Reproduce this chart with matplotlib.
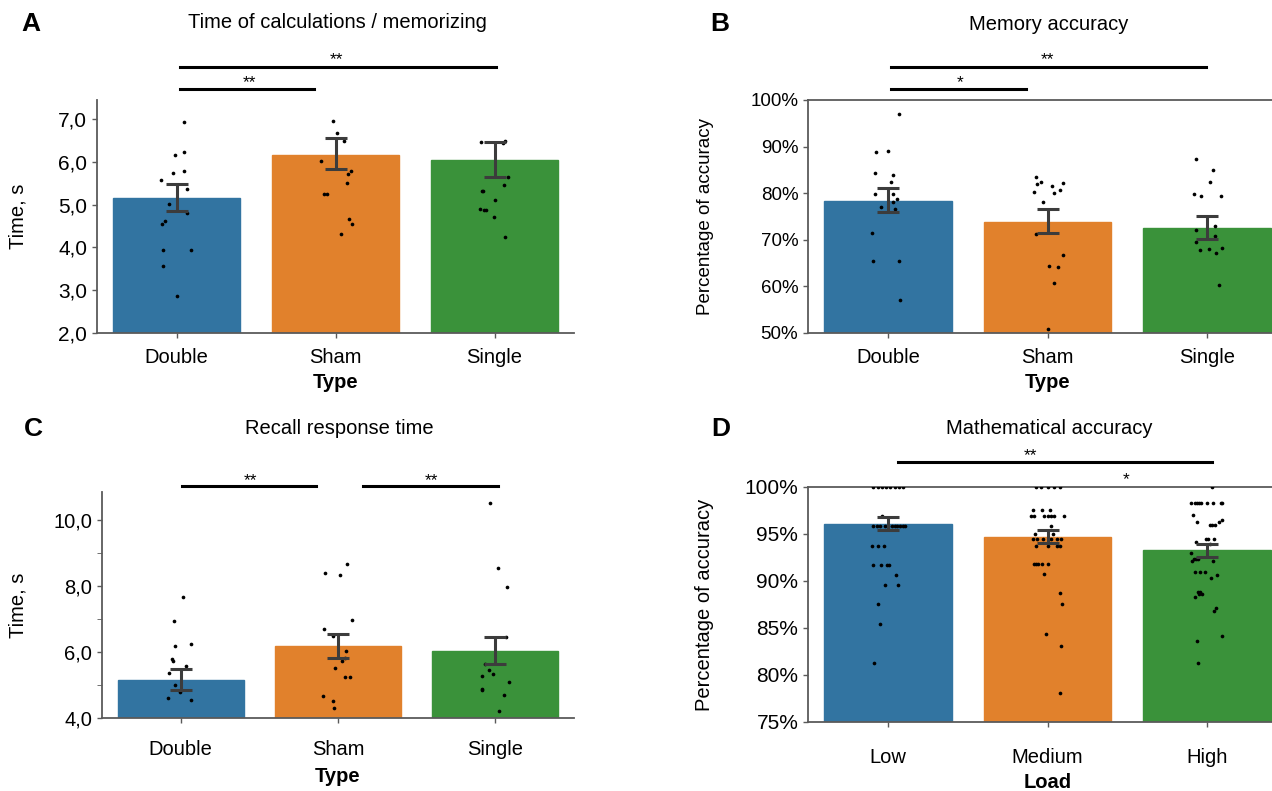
import numpy as np
import matplotlib
matplotlib.use('Agg')
import matplotlib.pyplot as plt
from matplotlib.lines import Line2D

plt.rcParams['font.family'] = ['Liberation Sans', 'DejaVu Sans']

W, H = 1272, 791
COLORS = ['#3274a1', '#e1812c', '#3a923a']

types = ['Double', 'Sham', 'Single']
loads = ['Low', 'Medium', 'High']

# --- A: time of calculations / memorizing (s)
a_mean = [5.16, 6.17, 6.04]
a_lo = [4.86, 5.83, 5.64]
a_hi = [5.49, 6.55, 6.47]
a_double = [6.94, 6.17, 6.24, 5.75, 5.79, 5.59, 5.36, 5.01, 4.80, 4.56, 4.61, 3.95, 3.94, 3.56, 2.86]
a_double_jit = [0.05, -0.01, 0.048, -0.023, 0.046, -0.1, 0.069, -0.05, 0.065, -0.092, -0.075, -0.088, 0.09, -0.083, 0.0]
a_sham = [6.96, 6.68, 6.48, 6.03, 5.80, 5.72, 5.52, 5.24, 5.25, 4.66, 4.54, 4.31]
a_sham_jit = [-0.013, 0.008, 0.052, -0.092, 0.098, 0.077, 0.073, -0.071, -0.052, 0.083, 0.104, 0.033]
a_single = [6.47, 6.45, 6.48, 5.64, 5.46, 5.31, 5.33, 5.10, 4.90, 4.88, 4.87, 4.72, 4.24]
a_single_jit = [-0.085, 0.052, 0.067, 0.083, 0.058, -0.079, -0.073, 0.002, -0.094, -0.063, -0.054, -0.004, 0.065]
a_yticks = [2, 3, 4, 5, 6, 7]

# --- B: memory accuracy (%)
b_mean = [78.35, 73.85, 72.5]
b_lo = [76.0, 71.36, 70.14]
b_hi = [81.07, 76.57, 75.0]
b_double = [97.0, 88.8, 89.1, 84.3, 83.85, 82.5, 79.8, 79.85, 78.7, 78.2, 77.1, 76.6, 71.5, 65.5, 65.55, 57.1]
b_double_jit = [0.071, -0.071, 0.002, -0.079, 0.031, 0.021, -0.079, 0.035, 0.058, 0.031, -0.042, 0.042, -0.098, -0.09, 0.071, 0.079]
b_sham = [83.56, 81.9, 82.3, 81.6, 82.2, 80.2, 80.06, 80.6, 78.07, 71.2, 66.8, 64.4, 64.2, 60.7, 50.8]
b_sham_jit = [-0.073, -0.067, -0.04, 0.029, 0.1, -0.085, 0.038, 0.081, -0.029, -0.075, 0.098, 0.008, 0.067, 0.04, 0.006]
b_single = [87.4, 84.9, 82.3, 79.9, 79.35, 79.35, 72.1, 73.0, 70.9, 69.5, 67.85, 68.1, 68.3, 67.1, 60.35]
b_single_jit = [-0.073, 0.038, 0.019, -0.085, -0.04, 0.088, -0.069, 0.046, 0.05, -0.067, -0.044, 0.013, 0.09, 0.056, 0.077]
b_yticks = [50, 60, 70, 80, 90, 100]

# --- C: recall response time (s)
c_mean = [5.16, 6.17, 6.04]
c_lo = [4.85, 5.81, 5.64]
c_hi = [5.49, 6.54, 6.47]
c_double = [7.68, 6.94, 6.18, 6.24, 5.78, 5.74, 5.59, 5.35, 4.99, 4.79, 4.60, 4.55]
c_double_jit = [0.017, -0.04, -0.038, 0.063, -0.057, -0.049, 0.034, -0.076, -0.034, -0.002, -0.08, 0.065]
c_sham = [8.66, 8.41, 8.34, 6.96, 6.69, 6.48, 6.04, 5.81, 5.72, 5.51, 5.23, 5.23, 4.66, 4.52, 4.29]
c_sham_jit = [0.059, -0.084, 0.011, 0.086, -0.089, -0.034, 0.049, 0.044, 0.023, -0.019, 0.044, 0.078, -0.097, -0.034, -0.023]
c_single = [10.51, 8.56, 7.97, 6.46, 5.63, 5.44, 5.28, 5.32, 5.08, 4.88, 4.86, 4.70, 4.22]
c_single_jit = [-0.032, 0.019, 0.072, 0.07, -0.068, -0.04, -0.086, -0.015, 0.089, -0.086, -0.082, 0.053, 0.021]
c_yticks = [4, 6, 8, 10]
c_yminor = [5, 7, 9]

# --- D: mathematical accuracy (%)
d_mean = [96.06, 94.72, 93.26]
d_lo = [95.41, 94.09, 92.6]
d_hi = [96.78, 95.45, 93.98]
d_low = ([100.0] * 8 + [96.88] + [95.83] * 11 + [93.75] * 3 + [91.67] * 4
         + [90.63] + [89.58] * 2 + [87.5, 85.42, 81.25])
d_low_jit = [-0.091, -0.064, -0.038, -0.013, 0.015, 0.042, 0.068, 0.097,
             -0.038,
             -0.091, -0.07, -0.049, -0.017, 0.004, 0.025, 0.042, 0.059, 0.076, 0.093, 0.106,
             -0.097, -0.059, -0.021,
             -0.095, -0.042, -0.004, 0.006,
             0.053, -0.017, 0.064, -0.061, -0.047, -0.085]
d_med = ([100.0] * 5 + [97.56] * 3 + [96.88] * 7 + [95.83] + [95.0] * 2 + [94.44] * 6
         + [93.75] * 4 + [91.8] * 5 + [90.78, 88.72, 87.5, 84.37, 83.12, 78.09])
d_med_jit = [-0.074, -0.038, 0.0, 0.038, 0.081,
             -0.093, -0.036, 0.017,
             -0.102, -0.085, -0.021, 0.0, 0.021, 0.042, 0.102,
             0.025, -0.078, 0.034,
             -0.093, -0.064, -0.028, 0.019, 0.061, 0.087,
             -0.074, 0.0, 0.061, 0.076,
             -0.085, -0.072, -0.057, -0.036, 0.004,
             -0.025, 0.076, 0.093, -0.008, 0.085, 0.078]
d_high = ([100.0] + [98.26] * 9 + [96.99, 96.5, 96.24, 96.24] + [95.96] * 3 + [94.43] * 3
          + [94.1, 93.9, 92.98] + [92.37] * 3 + [92.13] * 2 + [90.92] * 3
          + [90.6, 90.32, 88.86, 88.86, 88.58, 88.58, 88.3, 87.1, 86.77, 84.15, 83.58, 81.24])
d_high_jit = [0.029,
              -0.102, -0.079, -0.065, -0.05, -0.038, -0.002, 0.036, 0.086, 0.096,
              -0.086, 0.092, -0.065, 0.077,
              0.019, 0.033, 0.05,
              -0.008, 0.006, 0.04,
              -0.069, 0.019, -0.102,
              -0.084, -0.071, -0.056,
              -0.094, 0.038,
              -0.077, -0.042, -0.015,
              0.059, 0.025, -0.059, -0.046, -0.054, -0.031, -0.079, 0.056, 0.04, 0.096, -0.063, -0.059]
d_yticks = [75, 80, 85, 90, 95, 100]


def rect(left, top, right, bottom):
    return [left / W, 1 - bottom / H, (right - left) / W, (bottom - top) / H]


def draw_panel(ax, cats, means, lo, hi, groups, jits):
    x = np.arange(len(cats))
    ax.bar(x, means, width=0.8, color=COLORS, edgecolor=COLORS, linewidth=1, zorder=1)
    for i in range(len(cats)):
        ax.scatter(i + np.array(jits[i]), groups[i], s=7, c='black', linewidths=0, zorder=3)
    ax.errorbar(x, means, yerr=[np.array(means) - np.array(lo), np.array(hi) - np.array(means)],
                fmt='none', ecolor='#3c3c3c', elinewidth=2.2, capsize=8, capthick=2.2, zorder=4)
    ax.set_xlim(-0.5, 2.5)
    ax.set_xticks(x)
    ax.set_xticklabels(cats, fontsize=14.5)
    for s in ['top', 'right']:
        ax.spines[s].set_visible(False)
    for s in ['left', 'bottom', 'top']:
        ax.spines[s].set_color('#5a5a5a')
        ax.spines[s].set_linewidth(1.3)
    ax.tick_params(direction='out', length=3.5, color='#5a5a5a', width=1)


def set_labels(ax, xlabel, ylabel, ysize, ylab_x, xlab_y):
    ax.set_ylabel(ylabel, fontsize=ysize)
    ax.yaxis.label.set_va('center')
    ax.yaxis.set_label_coords(ylab_x, 0.5)
    ax.set_xlabel(xlabel, fontsize=14.5, fontweight='bold')
    ax.xaxis.label.set_va('center')
    ax.xaxis.set_label_coords(0.5, xlab_y)


def sig(x0, x1, y, label, tx, ty):
    fig.add_artist(Line2D([x0 / W, x1 / W], [1 - y / H, 1 - y / H], transform=fig.transFigure,
                          color='black', lw=2.2))
    fig.text(tx / W, 1 - ty / H, label, ha='center', va='center', fontsize=12.5)


fig = plt.figure(figsize=(W / 100, H / 100), dpi=100)

# A
axA = fig.add_axes(rect(97, 100, 574, 333))
draw_panel(axA, types, a_mean, a_lo, a_hi, [a_double, a_sham, a_single],
           [a_double_jit, a_sham_jit, a_single_jit])
axA.set_ylim(2, 7.45)
axA.set_yticks(a_yticks)
axA.set_yticklabels([f'{t:.1f}'.replace('.', ',') for t in a_yticks], fontsize=15)
axA.tick_params(axis='x', pad=7)
set_labels(axA, 'Type', 'Time, s', 14.5, -79 / 477, -50 / 233)

# B
axB = fig.add_axes(rect(808, 100, 1287, 333))
draw_panel(axB, types, b_mean, b_lo, b_hi, [b_double, b_sham, b_single],
           [b_double_jit, b_sham_jit, b_single_jit])
axB.spines['top'].set_visible(True)
axB.set_ylim(50, 100)
axB.set_yticks(b_yticks)
axB.set_yticklabels([f'{t}%' for t in b_yticks], fontsize=13.5)
axB.tick_params(axis='x', pad=7)
set_labels(axB, 'Type', 'Percentage of accuracy', 13.5, -103 / 479, -50 / 233)

# C
axC = fig.add_axes(rect(102, 492, 574, 718))
draw_panel(axC, types, c_mean, c_lo, c_hi, [c_double, c_sham, c_single],
           [c_double_jit, c_sham_jit, c_single_jit])
axC.set_ylim(4, 10.85)
axC.set_yticks(c_yticks)
axC.set_yticks(c_yminor, minor=True)
axC.set_yticklabels([f'{t:.1f}'.replace('.', ',') for t in c_yticks], fontsize=14.5)
axC.tick_params(axis='y', which='minor', direction='out', length=3.5, color='#5a5a5a')
axC.tick_params(axis='x', pad=12)
set_labels(axC, 'Type', 'Time, s', 14.5, -84 / 472, -59 / 226)

# D
axD = fig.add_axes(rect(808, 487, 1287, 722))
draw_panel(axD, loads, d_mean, d_lo, d_hi, [d_low, d_med, d_high],
           [d_low_jit, d_med_jit, d_high_jit])
axD.spines['top'].set_visible(True)
axD.set_ylim(75, 100)
axD.set_yticks(d_yticks)
axD.set_yticklabels([f'{t}%' for t in d_yticks], fontsize=15)
axD.tick_params(axis='x', pad=15)
set_labels(axD, 'Load', 'Percentage of accuracy', 14.5, -103 / 479, -61 / 235)

# panel letters and titles
for letter, lx, ly in [('A', 31, 24), ('B', 720, 24), ('C', 33, 429), ('D', 721, 429)]:
    fig.text(lx / W, 1 - ly / H, letter, fontsize=19, fontweight='bold', ha='center', va='center')
for title, tx, ty in [('Time of calculations / memorizing', 337, 22), ('Memory accuracy', 1049, 24),
                      ('Recall response time', 339, 428), ('Mathematical accuracy', 1049, 428)]:
    fig.text(tx / W, 1 - ty / H, title, fontsize=14.5, ha='center', va='center')

# significance bars
sig(180, 496, 67, '**', 336, 60)
sig(180, 314, 89, '**', 249, 83)
sig(891, 1206, 67, '**', 1047, 60)
sig(891, 1026, 89, '*', 960, 83)
sig(182, 316, 486, '**', 250, 481)
sig(363, 498, 486, '**', 431, 481)
sig(898, 1212, 462, '**', 1030, 456)
fig.text(1126 / W, 1 - 480 / H, '*', ha='center', va='center', fontsize=12.5)

fig.savefig('out.png', dpi=100)
